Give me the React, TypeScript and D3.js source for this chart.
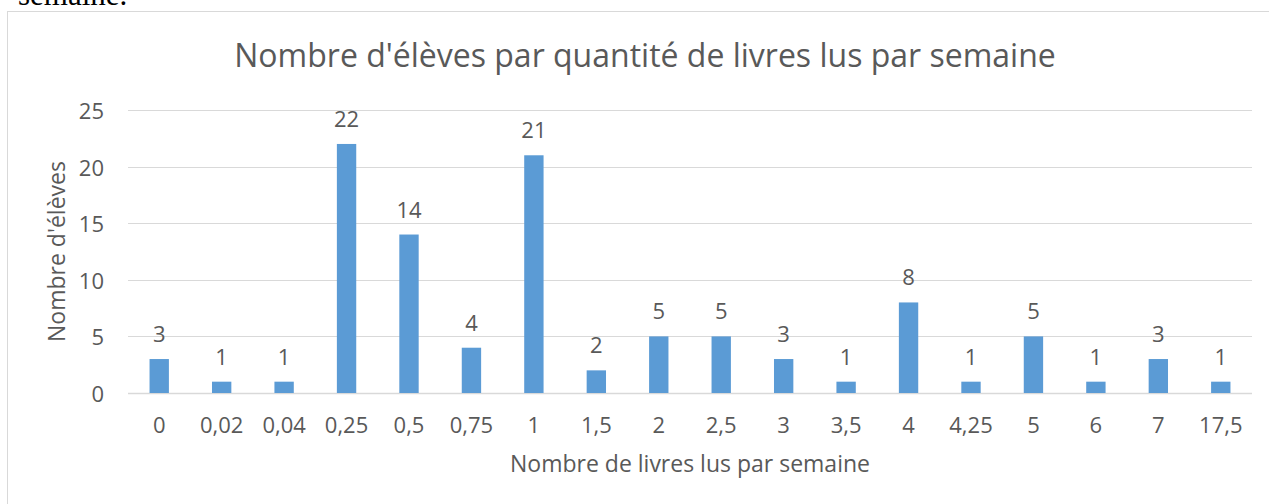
import React from "react";
import * as d3 from "d3";

const categories = ["0", "0,02", "0,04", "0,25", "0,5", "0,75", "1", "1,5", "2", "2,5", "3", "3,5", "4", "4,25", "5", "6", "7", "17,5"];
const values = [3, 1, 1, 22, 14, 4, 21, 2, 5, 5, 3, 1, 8, 1, 5, 1, 3, 1];
const yTicks = [0, 5, 10, 15, 20, 25];
const title = "Nombre d'élèves par quantité de livres lus par semaine";
const xTitle = "Nombre de livres lus par semaine";
const yTitle = "Nombre d'élèves";

const W = 1269;
const H = 504;
const plot = { left: 128, right: 1252, top: 110, bottom: 393 };
const FONT = "'Open Sans', 'Noto Sans', sans-serif";
const TXT = "#595959";

export default function App() {
  const x = d3
    .scaleBand<string>()
    .domain(categories)
    .range([plot.left, plot.right])
    .paddingInner(0.69)
    .paddingOuter(0.345);
  const y = d3.scaleLinear().domain([0, 25]).range([plot.bottom, plot.top]);

  return (
    <svg
      width={W}
      height={H}
      style={{ position: "absolute", left: 0, top: 0, background: "#fff" }}
    >
      <text x={18} y={5} fontFamily="'Liberation Serif', serif" fontSize={31} fill="#000">
        semaine.
      </text>
      <rect x={7.5} y={11.5} width={1300} height={600} fill="#fff" stroke="#D9D9D9" strokeWidth={1} />
      <text x={645} y={67} textAnchor="middle" fontFamily={FONT} fontSize={32} fill={TXT}>
        {title}
      </text>
      {yTicks.map((t) => (
        <g key={t}>
          <line
            x1={plot.left}
            x2={plot.right}
            y1={Math.round(y(t)) + 0.5}
            y2={Math.round(y(t)) + 0.5}
            stroke="#D9D9D9"
            strokeWidth={t === 0 ? 1.5 : 1}
          />
          <text x={104} y={y(t) + 9} textAnchor="end" fontFamily={FONT} fontSize={22} fill={TXT}>
            {t}
          </text>
        </g>
      ))}
      {categories.map((c, i) => {
        const bx = x(c)!;
        const v = values[i];
        const cx = bx + x.bandwidth() / 2;
        return (
          <g key={c}>
            <rect x={bx} y={y(v)} width={x.bandwidth()} height={y(0) - y(v)} fill="#5B9BD5" />
            <text x={cx} y={y(v) - 17} textAnchor="middle" fontFamily={FONT} fontSize={22} fill={TXT}>
              {v}
            </text>
            <text x={cx} y={433} textAnchor="middle" fontFamily={FONT} fontSize={22} fill={TXT}>
              {c}
            </text>
          </g>
        );
      })}
      <text
        x={(plot.left + plot.right) / 2}
        y={472}
        textAnchor="middle"
        fontFamily={FONT}
        fontSize={23}
        fill={TXT}
      >
        {xTitle}
      </text>
      <text
        transform={`translate(65, ${(plot.top + plot.bottom) / 2}) rotate(-90)`}
        textAnchor="middle"
        fontFamily={FONT}
        fontSize={23}
        fill={TXT}
      >
        {yTitle}
      </text>
    </svg>
  );
}
